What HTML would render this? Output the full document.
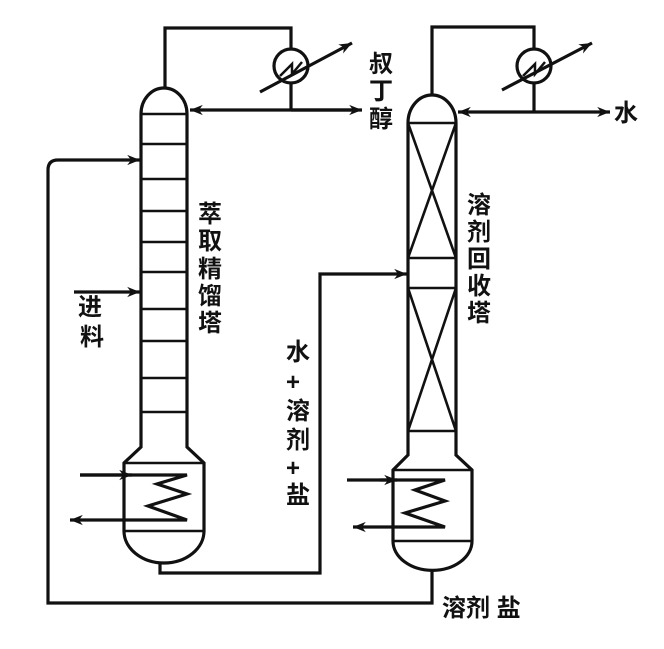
<!DOCTYPE html>
<html><head><meta charset="utf-8"><style>
html,body{margin:0;padding:0;background:#fff;width:664px;height:649px;overflow:hidden}
text{font-family:"Liberation Sans","Noto Sans CJK SC",sans-serif;font-size:24px;font-weight:bold;fill:#111}
</style></head><body>
<svg width="664" height="649" viewBox="0 0 664 649" xmlns="http://www.w3.org/2000/svg">
<defs>
<marker id="a" viewBox="0 0 10 10" refX="10" refY="5" markerWidth="6" markerHeight="4" orient="auto" markerUnits="strokeWidth"><path d="M0,1 L10,5 L0,9 L3,5z" fill="#111"/></marker>
</defs>
<g fill="none" stroke="#111" stroke-width="3.2">
<path d="M141,114 A23,26 0 0 1 187,114"/>
<path d="M141,114 V447 L124,463 V531 A40,32 0 0 0 204,531 V463 L187,447 V114"/>
<g stroke-width="2.6">
<path d="M141,114H187M141,144H187M141,179H187M141,211H187M141,242H187M141,272H187M141,309H187M141,341H187M141,378H187M141,412H187M124,463H204M124,531H204"/>
</g>
<path d="M80,475 H187 L157,484 L187,494 L148,506 L187,520 H70" marker-end="url(#a)"/>
<path d="M80,475 H132" marker-end="url(#a)"/>
<path d="M74,292 H140" marker-end="url(#a)"/>
<path d="M432,570 V603 H48 V170 Q48,160 58,160 H140" marker-end="url(#a)"/>
<path d="M160,562 V573 H320 V274 H407" marker-end="url(#a)"/>
<path d="M165,88 V28 H291 V48"/>
<circle cx="291" cy="66" r="17"/>
<path d="M291,83 V110"/>
<path d="M358,110 H190" marker-end="url(#a)"/>
<path d="M291,110 H362" marker-end="url(#a)"/>
<path d="M260,92 L352,43" marker-end="url(#a)"/>
<path d="M280,76 L292,64 L292,74 L302,62" stroke-width="2.5"/>
<path d="M408,123 A24,28 0 0 1 456,123"/>
<path d="M408,123 V455 L393,470 V541 A39,29 0 0 0 472,541 V470 L456,455 V123"/>
<g stroke-width="2.6">
<path d="M408,123H456M408,258H456M408,288H456M408,431H456M393,470H472M393,541H472"/>
<path d="M408,123 L456,258 M456,123 L408,258 M408,288 L456,431 M456,288 L408,431"/>
</g>
<path d="M347,480 H397" marker-end="url(#a)"/>
<path d="M380,480 H445 L415,490 L445,501 L405,513 L445,527 H353" marker-end="url(#a)"/>
<path d="M432,95 V27 H534 V48"/>
<circle cx="534" cy="66" r="17"/>
<path d="M534,83 V112"/>
<path d="M534,112 H458" marker-end="url(#a)"/>
<path d="M534,112 H610" marker-end="url(#a)"/>
<path d="M502,90 L592,43" marker-end="url(#a)"/>
<path d="M523,76 L535,64 L535,74 L545,62" stroke-width="2.5"/>
</g>
<text x="369" y="72">叔</text>
<text x="369" y="99">丁</text>
<text x="369" y="127">醇</text>
<text x="614" y="121">水</text>
<text x="198" y="222">萃</text>
<text x="198" y="249">取</text>
<text x="198" y="277">精</text>
<text x="198" y="304">馏</text>
<text x="198" y="331">塔</text>
<text x="467" y="213">溶</text>
<text x="467" y="240">剂</text>
<text x="467" y="267">回</text>
<text x="467" y="294">收</text>
<text x="467" y="321">塔</text>
<text x="78" y="315">进</text>
<text x="80" y="345">料</text>
<text x="286" y="360">水</text>
<text x="286" y="390">+</text>
<text x="286" y="419">溶</text>
<text x="286" y="448">剂</text>
<text x="286" y="476">+</text>
<text x="286" y="503">盐</text>
<text x="442" y="616">溶剂 盐</text>
</svg>
</body></html>
